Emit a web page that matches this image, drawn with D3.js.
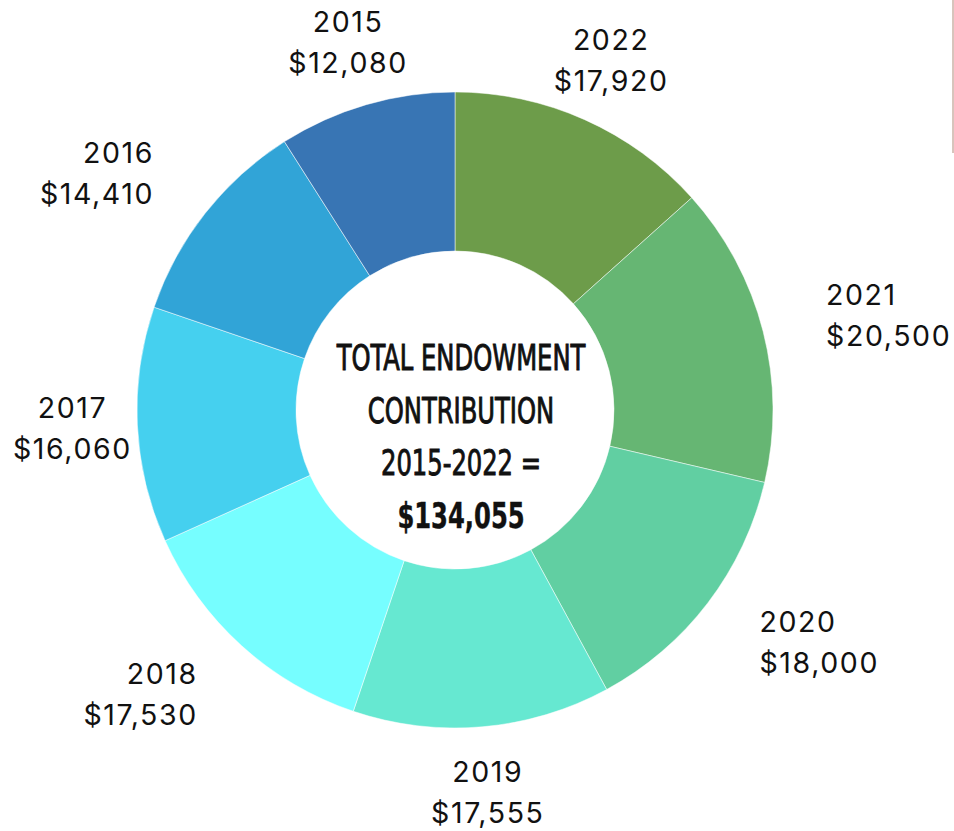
<!DOCTYPE html>
<html>
<head>
<meta charset="utf-8">
<script src="https://cdn.jsdelivr.net/npm/d3@7"></script>
<style>
  html, body { margin: 0; padding: 0; background: #fff; }
  svg { display: block; }
</style>
</head>
<body>
<div id="chart"></div>
<script>
// Datos del gráfico (en sentido horario desde las 12)
const years = ["2022", "2021", "2020", "2019", "2018", "2017", "2016", "2015"];
const amounts = [17920, 20500, 18000, 17555, 17530, 16060, 14410, 12080];
const colors = ["#6d9c4a", "#66b673", "#61cfa2", "#66e8d1", "#76feff", "#45d0ef", "#31a4d7", "#3875b4"];
const centerLines = ["TOTAL ENDOWMENT", "CONTRIBUTION", "2015-2022 =", "$134,055"];

const width = 954, height = 831;
const cx = 455, cy = 410;
const outerR = 318, innerR = 159;
const labelR = 383;

const svg = d3.select("#chart")
    .append("svg")
    .attr("width", width)
    .attr("height", height);

const g = svg.append("g")
    .attr("transform", `translate(${cx},${cy})`);

const data = years.map((y, i) => ({year: y, value: amounts[i], color: colors[i]}));

const pie = d3.pie()
    .value(d => d.value)
    .sort(null);

const arc = d3.arc()
    .innerRadius(innerR)
    .outerRadius(outerR);

const arcs = pie(data);

// Segmentos del anillo
g.selectAll("path.slice")
    .data(arcs)
    .join("path")
    .attr("class", "slice")
    .attr("d", arc)
    .attr("fill", d => d.data.color)
    .attr("stroke", "#fff")
    .attr("stroke-width", 0.5);

// Etiquetas exteriores
const fmt = d3.format(",");
g.selectAll("text.lbl")
    .data(arcs)
    .join("text")
    .attr("class", "lbl")
    .attr("font-family", "Inter, 'Open Sans', sans-serif")
    .attr("font-size", 28.5)
    .attr("letter-spacing", 1.6)
    .attr("fill", "#111")
    .each(function(d) {
        const a = (d.startAngle + d.endAngle) / 2;
        const s = Math.sin(a), c = Math.cos(a);
        const x = labelR * s, y = -labelR * c;
        let anchor = "middle";
        if (Math.abs(c) <= 0.85 && Math.abs(s) <= 0.99) anchor = s > 0 ? "start" : "end";
        const t = d3.select(this).attr("text-anchor", anchor);
        t.append("tspan").attr("x", x).attr("y", y - 20).attr("dy", "0.35em").text(d.data.year);
        t.append("tspan").attr("x", x).attr("y", y + 21).attr("dy", "0.35em").text("$" + fmt(d.data.value));
    });

// Texto central
const center = g.append("g")
    .attr("transform", "translate(6,0) scale(0.77,1)");
center.selectAll("text")
    .data(centerLines)
    .join("text")
    .attr("text-anchor", "middle")
    .attr("font-family", "'Liberation Sans Narrow', 'DejaVu Sans Condensed', sans-serif")
    .attr("font-size", 35)
    .attr("font-weight", (d, i) => i === 3 ? 700 : 400)
    .attr("fill", "#111")
    .attr("stroke", "#111")
    .attr("stroke-width", (d, i) => i === 3 ? 0.4 : 0.9)
    .attr("x", 0)
    .attr("y", (d, i) => -52 + i * 52.5)
    .attr("dy", "0.35em")
    .text(d => d);

// Línea fina en la esquina superior derecha
svg.append("line")
    .attr("x1", 953).attr("x2", 953)
    .attr("y1", 0).attr("y2", 153)
    .attr("stroke", "#b08a7a")
    .attr("stroke-width", 1);
</script>
</body>
</html>
